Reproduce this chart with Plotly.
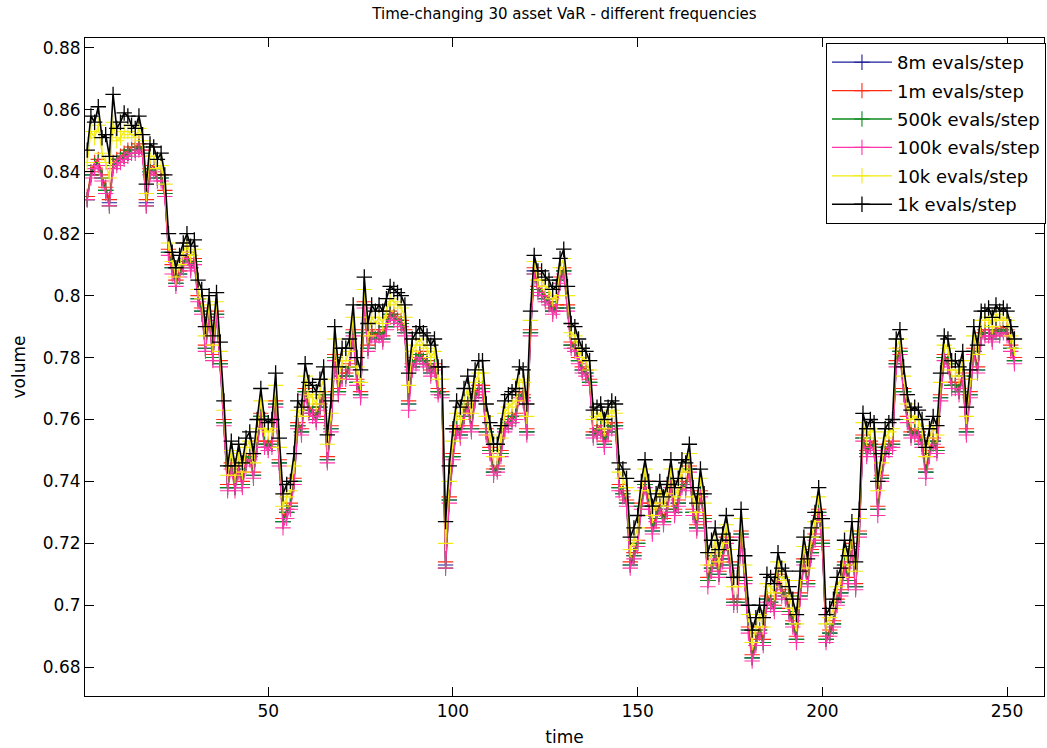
import plotly.graph_objects as go

# time steps of the back-test
time_steps = list(range(1, 253))

# 30-asset VaR estimates, one list per sampling budget
var_8m = [
    0.831, 0.839, 0.842, 0.843, 0.838, 0.834, 0.830, 0.842, 0.843, 0.844,
    0.845, 0.846, 0.847, 0.847, 0.848, 0.846, 0.830, 0.840, 0.841, 0.838,
    0.838, 0.833, 0.814, 0.809, 0.804, 0.807, 0.810, 0.813, 0.809, 0.811,
    0.799, 0.795, 0.783, 0.793, 0.780, 0.794, 0.778, 0.759, 0.738, 0.745,
    0.738, 0.744, 0.739, 0.746, 0.748, 0.742, 0.752, 0.761, 0.752, 0.751,
    0.752, 0.765, 0.746, 0.727, 0.730, 0.732, 0.740, 0.758, 0.756, 0.769,
    0.763, 0.762, 0.760, 0.764, 0.768, 0.747, 0.757, 0.780, 0.769, 0.774,
    0.774, 0.777, 0.788, 0.772, 0.768, 0.797, 0.783, 0.788, 0.786, 0.788,
    0.786, 0.790, 0.794, 0.793, 0.792, 0.791, 0.788, 0.765, 0.777, 0.779,
    0.781, 0.779, 0.778, 0.775, 0.777, 0.769, 0.768, 0.713, 0.734, 0.748,
    0.757, 0.755, 0.761, 0.765, 0.757, 0.767, 0.770, 0.770, 0.756, 0.750,
    0.743, 0.744, 0.749, 0.757, 0.759, 0.760, 0.761, 0.768, 0.767, 0.756,
    0.788, 0.808, 0.802, 0.801, 0.799, 0.798, 0.795, 0.796, 0.805, 0.808,
    0.796, 0.784, 0.783, 0.779, 0.776, 0.775, 0.772, 0.755, 0.756, 0.757,
    0.752, 0.756, 0.758, 0.758, 0.738, 0.736, 0.733, 0.713, 0.716, 0.720,
    0.732, 0.739, 0.732, 0.724, 0.728, 0.732, 0.727, 0.731, 0.739, 0.730,
    0.733, 0.739, 0.738, 0.744, 0.730, 0.725, 0.736, 0.728, 0.708, 0.712,
    0.716, 0.710, 0.715, 0.721, 0.713, 0.701, 0.701, 0.723, 0.708, 0.692,
    0.683, 0.688, 0.692, 0.688, 0.702, 0.701, 0.699, 0.709, 0.704, 0.703,
    0.698, 0.694, 0.689, 0.703, 0.714, 0.707, 0.717, 0.722, 0.730, 0.720,
    0.689, 0.691, 0.694, 0.701, 0.704, 0.713, 0.708, 0.719, 0.706, 0.723,
    0.754, 0.749, 0.752, 0.751, 0.731, 0.741, 0.749, 0.751, 0.752, 0.778,
    0.782, 0.769, 0.760, 0.755, 0.756, 0.755, 0.752, 0.743, 0.749, 0.753,
    0.750, 0.767, 0.780, 0.778, 0.771, 0.771, 0.769, 0.774, 0.756, 0.768,
    0.782, 0.776, 0.787, 0.788, 0.788, 0.786, 0.789, 0.788, 0.789, 0.788,
    0.783, 0.779,
]

var_1m = [
    0.832, 0.840, 0.843, 0.844, 0.839, 0.835, 0.831, 0.843, 0.844, 0.845,
    0.846, 0.847, 0.848, 0.848, 0.849, 0.847, 0.831, 0.841, 0.842, 0.839,
    0.839, 0.834, 0.815, 0.810, 0.805, 0.808, 0.811, 0.814, 0.810, 0.812,
    0.800, 0.796, 0.784, 0.794, 0.781, 0.795, 0.779, 0.760, 0.739, 0.746,
    0.739, 0.745, 0.740, 0.747, 0.749, 0.743, 0.753, 0.762, 0.753, 0.752,
    0.753, 0.766, 0.747, 0.728, 0.731, 0.733, 0.741, 0.759, 0.757, 0.770,
    0.764, 0.763, 0.761, 0.765, 0.769, 0.748, 0.758, 0.781, 0.770, 0.775,
    0.775, 0.778, 0.789, 0.773, 0.769, 0.798, 0.784, 0.789, 0.787, 0.789,
    0.787, 0.791, 0.795, 0.794, 0.793, 0.792, 0.789, 0.766, 0.778, 0.780,
    0.782, 0.780, 0.779, 0.776, 0.778, 0.770, 0.769, 0.714, 0.735, 0.749,
    0.758, 0.756, 0.762, 0.766, 0.758, 0.768, 0.771, 0.771, 0.757, 0.751,
    0.744, 0.745, 0.750, 0.758, 0.760, 0.761, 0.762, 0.769, 0.768, 0.757,
    0.789, 0.809, 0.803, 0.802, 0.800, 0.799, 0.796, 0.797, 0.806, 0.809,
    0.797, 0.785, 0.784, 0.780, 0.777, 0.776, 0.773, 0.756, 0.757, 0.758,
    0.753, 0.757, 0.759, 0.759, 0.739, 0.737, 0.734, 0.714, 0.717, 0.721,
    0.733, 0.740, 0.733, 0.725, 0.729, 0.733, 0.728, 0.732, 0.740, 0.731,
    0.734, 0.740, 0.739, 0.745, 0.731, 0.726, 0.737, 0.729, 0.709, 0.713,
    0.717, 0.711, 0.716, 0.722, 0.714, 0.702, 0.702, 0.724, 0.709, 0.693,
    0.684, 0.689, 0.693, 0.689, 0.703, 0.702, 0.700, 0.710, 0.705, 0.704,
    0.699, 0.695, 0.690, 0.704, 0.715, 0.708, 0.718, 0.723, 0.731, 0.721,
    0.690, 0.692, 0.695, 0.702, 0.705, 0.714, 0.709, 0.720, 0.707, 0.724,
    0.755, 0.750, 0.753, 0.752, 0.732, 0.742, 0.750, 0.752, 0.753, 0.779,
    0.783, 0.770, 0.761, 0.756, 0.757, 0.756, 0.753, 0.744, 0.750, 0.754,
    0.751, 0.768, 0.781, 0.779, 0.772, 0.772, 0.770, 0.775, 0.757, 0.769,
    0.783, 0.777, 0.788, 0.789, 0.789, 0.787, 0.790, 0.789, 0.790, 0.789,
    0.784, 0.780,
]

var_500k = [
    0.831, 0.839, 0.842, 0.843, 0.838, 0.834, 0.829, 0.842, 0.843, 0.844,
    0.845, 0.846, 0.847, 0.847, 0.848, 0.846, 0.829, 0.840, 0.841, 0.838,
    0.838, 0.833, 0.814, 0.809, 0.804, 0.807, 0.810, 0.813, 0.809, 0.811,
    0.799, 0.795, 0.783, 0.793, 0.780, 0.794, 0.778, 0.759, 0.738, 0.745,
    0.738, 0.744, 0.739, 0.746, 0.748, 0.742, 0.752, 0.761, 0.752, 0.751,
    0.752, 0.765, 0.746, 0.727, 0.730, 0.732, 0.740, 0.758, 0.756, 0.769,
    0.763, 0.762, 0.760, 0.764, 0.768, 0.747, 0.757, 0.780, 0.769, 0.774,
    0.774, 0.777, 0.788, 0.772, 0.768, 0.797, 0.783, 0.788, 0.786, 0.788,
    0.786, 0.790, 0.794, 0.793, 0.792, 0.791, 0.788, 0.765, 0.777, 0.779,
    0.781, 0.779, 0.778, 0.775, 0.777, 0.769, 0.768, 0.712, 0.734, 0.748,
    0.757, 0.755, 0.761, 0.765, 0.757, 0.767, 0.770, 0.770, 0.756, 0.750,
    0.743, 0.744, 0.749, 0.757, 0.759, 0.760, 0.761, 0.768, 0.767, 0.756,
    0.788, 0.807, 0.802, 0.801, 0.799, 0.798, 0.795, 0.796, 0.805, 0.808,
    0.796, 0.784, 0.783, 0.779, 0.776, 0.775, 0.772, 0.755, 0.756, 0.757,
    0.752, 0.756, 0.758, 0.758, 0.738, 0.736, 0.733, 0.713, 0.716, 0.720,
    0.732, 0.739, 0.732, 0.724, 0.728, 0.732, 0.727, 0.731, 0.739, 0.730,
    0.733, 0.739, 0.738, 0.744, 0.730, 0.725, 0.736, 0.728, 0.708, 0.712,
    0.716, 0.710, 0.715, 0.721, 0.713, 0.701, 0.701, 0.723, 0.708, 0.692,
    0.683, 0.688, 0.692, 0.688, 0.702, 0.701, 0.699, 0.709, 0.704, 0.703,
    0.698, 0.694, 0.689, 0.703, 0.714, 0.707, 0.717, 0.722, 0.730, 0.720,
    0.689, 0.691, 0.694, 0.701, 0.704, 0.713, 0.708, 0.719, 0.706, 0.723,
    0.754, 0.749, 0.752, 0.751, 0.731, 0.741, 0.749, 0.751, 0.752, 0.778,
    0.782, 0.769, 0.760, 0.755, 0.756, 0.755, 0.752, 0.743, 0.749, 0.753,
    0.750, 0.767, 0.780, 0.778, 0.771, 0.771, 0.769, 0.774, 0.756, 0.768,
    0.782, 0.776, 0.787, 0.788, 0.788, 0.786, 0.789, 0.788, 0.789, 0.788,
    0.783, 0.779,
]

var_100k = [
    0.831, 0.838, 0.841, 0.842, 0.837, 0.833, 0.829, 0.841, 0.842, 0.843,
    0.844, 0.845, 0.846, 0.846, 0.847, 0.845, 0.829, 0.839, 0.840, 0.837,
    0.837, 0.832, 0.813, 0.807, 0.803, 0.806, 0.809, 0.812, 0.808, 0.810,
    0.798, 0.794, 0.782, 0.792, 0.779, 0.793, 0.777, 0.758, 0.737, 0.744,
    0.737, 0.743, 0.738, 0.745, 0.747, 0.741, 0.751, 0.760, 0.751, 0.750,
    0.751, 0.764, 0.745, 0.725, 0.728, 0.731, 0.739, 0.757, 0.755, 0.768,
    0.762, 0.761, 0.759, 0.763, 0.767, 0.746, 0.756, 0.779, 0.768, 0.773,
    0.773, 0.776, 0.787, 0.771, 0.767, 0.796, 0.782, 0.787, 0.785, 0.787,
    0.785, 0.789, 0.793, 0.792, 0.791, 0.790, 0.787, 0.763, 0.776, 0.778,
    0.780, 0.778, 0.777, 0.774, 0.776, 0.768, 0.767, 0.712, 0.733, 0.747,
    0.756, 0.754, 0.760, 0.764, 0.756, 0.766, 0.769, 0.769, 0.755, 0.749,
    0.742, 0.743, 0.748, 0.756, 0.758, 0.759, 0.760, 0.767, 0.766, 0.755,
    0.787, 0.807, 0.801, 0.800, 0.798, 0.797, 0.794, 0.795, 0.804, 0.807,
    0.795, 0.783, 0.782, 0.778, 0.775, 0.774, 0.771, 0.754, 0.755, 0.756,
    0.751, 0.755, 0.757, 0.757, 0.737, 0.735, 0.732, 0.712, 0.715, 0.719,
    0.731, 0.738, 0.731, 0.723, 0.727, 0.731, 0.726, 0.730, 0.738, 0.729,
    0.732, 0.738, 0.737, 0.743, 0.729, 0.724, 0.735, 0.727, 0.706, 0.711,
    0.715, 0.709, 0.714, 0.720, 0.712, 0.700, 0.700, 0.722, 0.707, 0.691,
    0.682, 0.687, 0.691, 0.687, 0.701, 0.700, 0.698, 0.708, 0.703, 0.702,
    0.697, 0.693, 0.688, 0.702, 0.713, 0.706, 0.716, 0.721, 0.729, 0.719,
    0.688, 0.690, 0.693, 0.700, 0.703, 0.712, 0.707, 0.718, 0.705, 0.722,
    0.753, 0.748, 0.751, 0.750, 0.729, 0.740, 0.748, 0.750, 0.751, 0.777,
    0.781, 0.768, 0.759, 0.754, 0.755, 0.754, 0.751, 0.741, 0.748, 0.752,
    0.749, 0.766, 0.779, 0.777, 0.770, 0.770, 0.768, 0.773, 0.755, 0.767,
    0.781, 0.775, 0.786, 0.787, 0.787, 0.785, 0.788, 0.787, 0.788, 0.787,
    0.782, 0.778,
]

var_10k = [
    0.843, 0.853, 0.851, 0.855, 0.846, 0.843, 0.838, 0.856, 0.850, 0.851,
    0.853, 0.853, 0.852, 0.851, 0.854, 0.850, 0.833, 0.845, 0.845, 0.841,
    0.842, 0.836, 0.817, 0.811, 0.806, 0.810, 0.814, 0.817, 0.813, 0.815,
    0.802, 0.799, 0.787, 0.797, 0.784, 0.798, 0.782, 0.763, 0.742, 0.750,
    0.742, 0.749, 0.743, 0.751, 0.753, 0.746, 0.757, 0.766, 0.757, 0.756,
    0.757, 0.771, 0.751, 0.732, 0.735, 0.737, 0.745, 0.763, 0.761, 0.774,
    0.768, 0.767, 0.765, 0.769, 0.773, 0.752, 0.762, 0.786, 0.773, 0.779,
    0.779, 0.782, 0.793, 0.777, 0.772, 0.802, 0.787, 0.793, 0.791, 0.793,
    0.791, 0.795, 0.799, 0.798, 0.797, 0.796, 0.793, 0.771, 0.782, 0.784,
    0.786, 0.784, 0.783, 0.780, 0.782, 0.773, 0.773, 0.720, 0.740, 0.753,
    0.762, 0.760, 0.766, 0.770, 0.762, 0.772, 0.775, 0.775, 0.761, 0.755,
    0.748, 0.748, 0.754, 0.762, 0.764, 0.765, 0.766, 0.773, 0.772, 0.761,
    0.792, 0.811, 0.805, 0.805, 0.803, 0.802, 0.799, 0.800, 0.809, 0.812,
    0.800, 0.788, 0.787, 0.783, 0.780, 0.779, 0.776, 0.760, 0.761, 0.762,
    0.757, 0.761, 0.763, 0.762, 0.743, 0.741, 0.738, 0.718, 0.721, 0.725,
    0.737, 0.744, 0.737, 0.729, 0.733, 0.737, 0.732, 0.736, 0.744, 0.735,
    0.738, 0.744, 0.743, 0.749, 0.735, 0.730, 0.741, 0.733, 0.713, 0.717,
    0.721, 0.714, 0.720, 0.726, 0.718, 0.706, 0.706, 0.728, 0.713, 0.697,
    0.688, 0.693, 0.697, 0.693, 0.707, 0.706, 0.704, 0.714, 0.709, 0.708,
    0.703, 0.699, 0.694, 0.708, 0.719, 0.712, 0.722, 0.727, 0.735, 0.725,
    0.694, 0.696, 0.699, 0.706, 0.709, 0.718, 0.713, 0.724, 0.711, 0.728,
    0.759, 0.754, 0.757, 0.756, 0.737, 0.746, 0.754, 0.756, 0.757, 0.783,
    0.786, 0.774, 0.765, 0.760, 0.761, 0.760, 0.757, 0.748, 0.754, 0.758,
    0.755, 0.772, 0.784, 0.783, 0.776, 0.776, 0.774, 0.779, 0.761, 0.773,
    0.787, 0.781, 0.792, 0.792, 0.793, 0.790, 0.794, 0.792, 0.793, 0.792,
    0.787, 0.783,
]

var_1k = [
    0.847, 0.858, 0.856, 0.861, 0.851, 0.852, 0.845, 0.865, 0.854, 0.856,
    0.859, 0.858, 0.855, 0.854, 0.858, 0.852, 0.836, 0.849, 0.848, 0.844,
    0.846, 0.839, 0.820, 0.814, 0.809, 0.813, 0.817, 0.820, 0.816, 0.818,
    0.805, 0.802, 0.790, 0.800, 0.787, 0.801, 0.785, 0.766, 0.745, 0.753,
    0.745, 0.752, 0.746, 0.754, 0.756, 0.749, 0.760, 0.770, 0.760, 0.759,
    0.760, 0.775, 0.754, 0.736, 0.739, 0.740, 0.749, 0.766, 0.764, 0.778,
    0.772, 0.771, 0.769, 0.773, 0.777, 0.755, 0.766, 0.790, 0.777, 0.783,
    0.783, 0.786, 0.797, 0.780, 0.776, 0.806, 0.791, 0.797, 0.795, 0.797,
    0.795, 0.799, 0.803, 0.802, 0.801, 0.800, 0.797, 0.775, 0.786, 0.788,
    0.790, 0.788, 0.787, 0.784, 0.786, 0.777, 0.777, 0.727, 0.745, 0.757,
    0.766, 0.764, 0.770, 0.774, 0.766, 0.776, 0.779, 0.779, 0.765, 0.759,
    0.752, 0.752, 0.758, 0.766, 0.768, 0.769, 0.770, 0.777, 0.776, 0.765,
    0.795, 0.813, 0.808, 0.808, 0.806, 0.805, 0.802, 0.803, 0.812, 0.815,
    0.803, 0.791, 0.790, 0.786, 0.783, 0.782, 0.779, 0.763, 0.764, 0.765,
    0.760, 0.764, 0.766, 0.765, 0.746, 0.744, 0.741, 0.722, 0.725, 0.729,
    0.740, 0.747, 0.740, 0.732, 0.736, 0.740, 0.735, 0.739, 0.747, 0.738,
    0.741, 0.747, 0.746, 0.752, 0.738, 0.733, 0.744, 0.736, 0.717, 0.721,
    0.725, 0.718, 0.723, 0.729, 0.721, 0.709, 0.709, 0.731, 0.716, 0.700,
    0.692, 0.696, 0.700, 0.696, 0.710, 0.709, 0.707, 0.717, 0.712, 0.711,
    0.706, 0.702, 0.697, 0.711, 0.722, 0.715, 0.725, 0.730, 0.738, 0.728,
    0.697, 0.699, 0.702, 0.709, 0.712, 0.721, 0.716, 0.727, 0.714, 0.731,
    0.762, 0.757, 0.760, 0.759, 0.740, 0.749, 0.757, 0.759, 0.760, 0.786,
    0.789, 0.777, 0.768, 0.763, 0.764, 0.763, 0.760, 0.751, 0.757, 0.761,
    0.758, 0.775, 0.787, 0.786, 0.779, 0.779, 0.777, 0.782, 0.764, 0.776,
    0.790, 0.784, 0.795, 0.795, 0.796, 0.793, 0.797, 0.795, 0.796, 0.795,
    0.790, 0.786,
]

series_names = [
    "8m evals/step", "1m evals/step", "500k evals/step",
    "100k evals/step", "10k evals/step", "1k evals/step",
]
series_values = [var_8m, var_1m, var_500k, var_100k, var_10k, var_1k]
series_colors = ["#1c1c9a", "#ff2a10", "#0d8a1e", "#ff34a8", "#f2ea10", "#000000"]

x_tick_values = [50, 100, 150, 200, 250]
y_tick_values = [0.68, 0.70, 0.72, 0.74, 0.76, 0.78, 0.80, 0.82, 0.84, 0.86, 0.88]
y_tick_labels = ["0.68", "0.7", "0.72", "0.74", "0.76", "0.78", "0.8",
                 "0.82", "0.84", "0.86", "0.88"]

FONT = "DejaVu Sans"

fig = go.Figure()
for name, values, color in zip(series_names, series_values, series_colors):
    is_black = color == "#000000"
    fig.add_trace(go.Scatter(
        x=time_steps,
        y=values,
        name=name,
        legendgroup=name,
        mode="lines+markers",
        line=dict(color=color, width=1.6 if is_black else 1.3),
        marker=dict(symbol="cross-thin", size=11,
                    line=dict(color=color, width=1.3 if is_black else 1.1)),
    ))

axis_common = dict(
    showline=True, linecolor="black", linewidth=1, mirror="allticks",
    ticks="inside", ticklen=9, tickcolor="black", tickwidth=1,
    showgrid=False, zeroline=False,
    tickfont=dict(family=FONT, size=17, color="black"),
)

fig.update_layout(
    width=1047, height=748,
    margin=dict(l=85, r=2, t=38, b=52),
    paper_bgcolor="white", plot_bgcolor="white",
    title=dict(
        text="Time-changing 30 asset VaR - different frequencies",
        font=dict(family=FONT, size=15, color="black"),
        x=0.5, xref="paper", xanchor="center",
        y=1 - 14 / 748, yref="container", yanchor="middle",
    ),
    xaxis=dict(
        range=[0.4, 260], tickvals=x_tick_values,
        title=dict(text="time", font=dict(family=FONT, size=17, color="black"), standoff=10),
        **axis_common,
    ),
    yaxis=dict(
        range=[0.6707, 0.8832], tickvals=y_tick_values, ticktext=y_tick_labels,
        title=dict(text="volume", font=dict(family=FONT, size=17, color="black"), standoff=12),
        **axis_common,
    ),
    legend=dict(
        x=1.001, xanchor="right", y=0.9924, yanchor="top",
        bgcolor="white", bordercolor="black", borderwidth=1,
        font=dict(family=FONT, size=18, color="black"),
        itemwidth=60, traceorder="grouped", tracegroupgap=2,
    ),
    showlegend=True,
)

fig.write_html("out.html")
